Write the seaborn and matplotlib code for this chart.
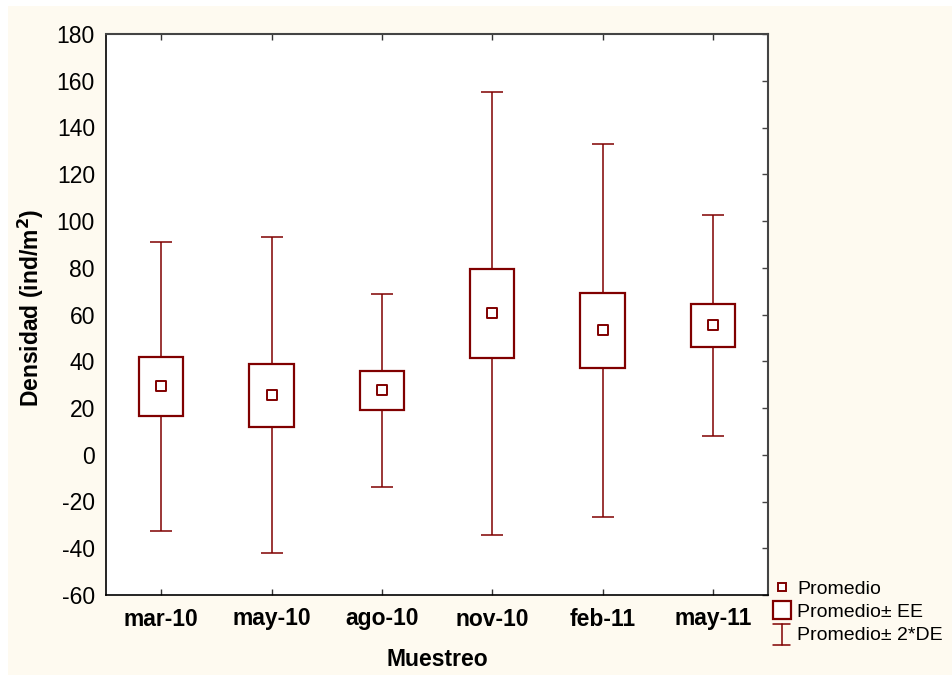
import matplotlib
matplotlib.use("Agg")
import matplotlib.pyplot as plt
import seaborn as sns
import pandas as pd
from matplotlib.lines import Line2D
from matplotlib.patches import Rectangle
from matplotlib.legend_handler import HandlerBase

# ---- data ----
categories = ["mar-10", "may-10", "ago-10", "nov-10", "feb-11", "may-11"]
mean_vals = [29.2, 25.5, 27.6, 60.5, 53.2, 55.3]
se_vals = [12.6, 13.5, 8.3, 19.1, 16.1, 9.4]
sd2_vals = [61.9, 67.5, 41.3, 94.8, 79.9, 47.1]
yticks = list(range(-60, 181, 20))

RED = "#800000"
CREAM = "#FEFAF0"

df = pd.DataFrame({"Muestreo": categories, "mean": mean_vals,
                   "se": se_vals, "sd2": sd2_vals})

sns.set_theme(style="white")
plt.rcParams["font.family"] = ["Liberation Sans", "DejaVu Sans"]
plt.rcParams["axes.unicode_minus"] = False
for k in ["text.color", "axes.labelcolor", "xtick.labelcolor", "ytick.labelcolor"]:
    plt.rcParams[k] = "black"

fig = plt.figure(figsize=(9.52, 6.75), dpi=100)
fig.patch.set_facecolor("white")
fig.patches.append(Rectangle((8 / 952, 0), 1, 669 / 675, transform=fig.transFigure,
                             facecolor=CREAM, edgecolor="none", zorder=-10))

ax = fig.add_axes([106 / 952, 1 - 595 / 675, 662 / 952, 561 / 675])
ax.set_facecolor("white")

x = list(range(len(categories)))

# whiskers (mean +- 2*SD)
ax.errorbar(x, df["mean"], yerr=df["sd2"], fmt="none", ecolor=RED,
            elinewidth=1.1, capsize=8, capthick=1.1, zorder=2)

# boxes (mean +- SE)
ax.bar(x, 2 * df["se"], bottom=df["mean"] - df["se"], width=0.4,
       facecolor="white", edgecolor=RED, linewidth=1.6, zorder=3)

# mean markers
sns.scatterplot(data=df, x="Muestreo", y="mean", ax=ax, marker="s", s=50,
                facecolor="white", edgecolor=RED, linewidth=1.4, zorder=4,
                legend=False)

FS = 16.5
ax.set_xlim(-0.5, 5.5)
ax.set_ylim(-60, 180)
ax.set_yticks(yticks)
ax.set_xticks(x)
ax.set_xticklabels(categories, fontsize=FS, fontweight="bold")
ax.tick_params(axis="y", labelsize=FS, pad=8)
ax.tick_params(axis="x", direction="in", length=4, width=1, color="#333333",
               pad=9, top=True, bottom=True)
ax.tick_params(axis="y", which="both", left=False, right=True, direction="in",
               length=4, width=1, color="#444444")

for s in ["left", "bottom"]:
    ax.spines[s].set_color("black")
    ax.spines[s].set_linewidth(1.2)
for s in ["top", "right"]:
    ax.spines[s].set_color("#444444")
    ax.spines[s].set_linewidth(1.5)

ax.set_ylabel("Densidad (ind/m$^\\mathbf{2}$)", fontsize=FS, fontweight="bold")
ax.set_xlabel("Muestreo", fontsize=FS, fontweight="bold")
ax.yaxis.set_label_coords(-0.091, 0.512)
ax.xaxis.set_label_coords(0.5, -0.094)
ax.grid(False)


class HandlerIBeam(HandlerBase):
    def create_artists(self, legend, orig_handle, xdescent, ydescent,
                       width, height, fontsize, trans):
        cx = width / 2 - xdescent
        y0 = -ydescent - 3
        y1 = height - ydescent + 2
        cw = 6
        lw = 1.1
        arts = [Line2D([cx, cx], [y0, y1], color=RED, lw=lw),
                Line2D([cx - cw, cx + cw], [y0, y0], color=RED, lw=lw),
                Line2D([cx - cw, cx + cw], [y1, y1], color=RED, lw=lw)]
        for a in arts:
            a.set_transform(trans)
        return arts


class IBeam:
    pass


h_mean = Line2D([], [], marker="s", linestyle="none", markersize=6,
                markerfacecolor="white", markeredgecolor=RED, markeredgewidth=1.4)
h_box = Line2D([], [], marker="s", linestyle="none", markersize=13,
               markerfacecolor="white", markeredgecolor=RED, markeredgewidth=1.6)
h_ib = IBeam()

fig.legend([h_mean, h_box, h_ib],
           ["Promedio", "Promedio± EE", "Promedio± 2*DE"],
           handler_map={IBeam: HandlerIBeam()},
           loc="upper left", bbox_to_anchor=(768 / 952, 1 - 576 / 675),
           frameon=False, fontsize=14, handlelength=1.0, handletextpad=0.3,
           labelspacing=0.3, borderaxespad=0, borderpad=0.2)

fig.savefig("out.png", dpi=100, facecolor=fig.get_facecolor())
